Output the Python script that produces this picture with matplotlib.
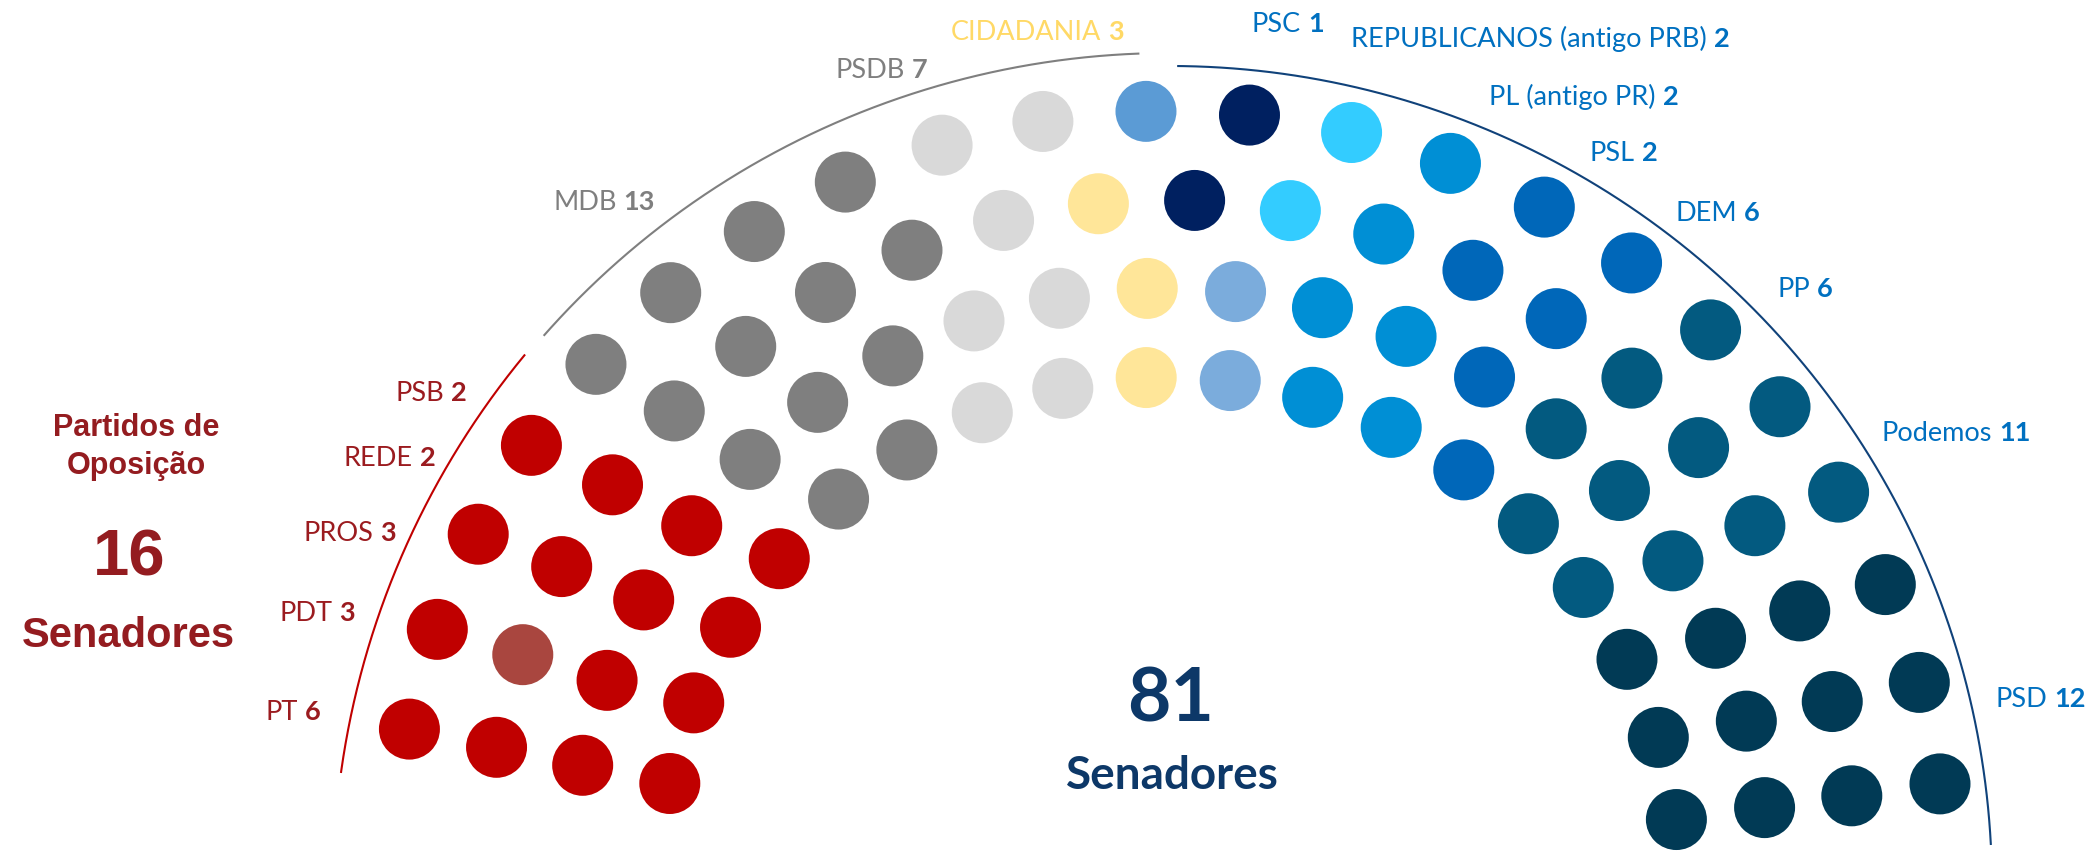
import numpy as np
from matplotlib import pyplot as plt

# %% dados: composicao do Senado por partido (da esquerda para a direita no arco)
partidos = ['PT', 'PDT', 'PROS', 'REDE', 'PSB', 'MDB', 'PSDB', 'CIDADANIA', 'PSC',
            'REPUBLICANOS (antigo PRB)', 'PL (antigo PR)', 'PSL', 'DEM', 'PP',
            'Podemos', 'PSD']
cadeiras = [6, 3, 3, 2, 2, 13, 7, 3, 1, 2, 2, 2, 6, 6, 11, 12]
cores = ['#C00000', '#C00000', '#C00000', '#C00000', '#C00000',
         '#7F7F7F', '#D9D9D9', '#FFE699', '#5B9BD5', '#002060', '#7BACDC',
         '#33CCFF', '#008FD5', '#0067B9', '#035A80', '#013A55']
cores_rotulo = ['#9B1B1F'] * 5 + ['#7F7F7F'] * 2 + ['#FFD966'] + ['#0070C0'] * 8

total_senado = 81
total_oposicao = 16
cor_destaque = '#A9463F'   # uma cadeira da oposicao em tom diferente

# %% layout (coordenadas em pixels da figura)
W, H = 2098, 852
cx, cy = 1170, 888
raios = [511, 600, 688, 777]          # filas, de dentro para fora
por_fila = [18, 20, 21, 22]
ang_ini, ang_fim = 168.2, 7.7
diam = 61
destaque = (2, 1)                      # (fila, posicao na fila)

arcos = [(140.4, 172.1, 837, '#C00000'),
         (92.1, 138.6, 835, '#7F7F7F'),
         (3.0, 89.5, 822, '#10427A')]

pos_rotulos = [(266, 720), (279, 621), (303, 541), (344, 466), (395, 401),
               (553, 210), (835, 78), (951, 40), (1252, 32), (1351, 47),
               (1489, 105), (1590, 161), (1675, 221), (1777, 297), (1882, 441),
               (1996, 707)]

# posicoes das cadeiras
xs, ys, angs, filas, idx_fila = [], [], [], [], []
for i, (r, n) in enumerate(zip(raios, por_fila)):
    t = np.linspace(ang_ini, ang_fim, n)
    xs += list(cx + r * np.cos(np.radians(t)))
    ys += list(cy - r * np.sin(np.radians(t)))
    angs += list(t)
    filas += [i] * n
    idx_fila += list(range(n))
xs, ys, angs = np.array(xs), np.array(ys), np.array(angs)
filas, idx_fila = np.array(filas), np.array(idx_fila)

ordem = np.argsort(-angs, kind='stable')
cor_cadeira = np.empty(len(xs), dtype=object)
cor_cadeira[ordem] = np.repeat(cores, cadeiras)
cor_cadeira[(filas == destaque[0]) & (idx_fila == destaque[1])] = cor_destaque

# %% figura
fig = plt.figure(figsize=(W / 100, H / 100), dpi=100)
ax = fig.add_axes([0, 0, 1, 1])
ax.set_xlim(0, W)
ax.set_ylim(H, 0)
ax.axis('off')

s = (diam * 72 / 100) ** 2
ax.scatter(xs, ys, s=s, c=list(cor_cadeira), linewidths=0, zorder=3)

for a0, a1, r, cor in arcos:
    t = np.radians(np.linspace(a0, a1, 200))
    ax.plot(cx + r * np.cos(t), cy - r * np.sin(t), color=cor, lw=1.5,
            solid_capstyle='butt')

# rotulos: nome normal + numero em negrito
fs = 19.5
renderer = fig.canvas.get_renderer()
inv = ax.transData.inverted()
for nome, n, cor, (lx, ly) in zip(partidos, cadeiras, cores_rotulo, pos_rotulos):
    t = ax.text(lx, ly, nome, color=cor, fontsize=fs, family='Lato',
                ha='left', va='baseline')
    bb = t.get_window_extent(renderer=renderer)
    x1 = inv.transform((bb.x1, bb.y0))[0]
    ax.text(x1 + 7, ly, str(n), color=cor, fontsize=fs, family='Lato',
            fontweight='bold', ha='left', va='baseline')

# bloco da oposicao
cor_op = '#941C20'
ax.text(136, 436, 'Partidos de', color=cor_op, fontsize=22, family='Liberation Sans',
        fontweight='bold', ha='center', va='baseline')
ax.text(136, 474, 'Oposição', color=cor_op, fontsize=22, family='Liberation Sans',
        fontweight='bold', ha='center', va='baseline')
ax.text(129, 576, str(total_oposicao), color=cor_op, fontsize=47, family='Liberation Sans',
        fontweight='bold', ha='center', va='baseline')
ax.text(128, 647, 'Senadores', color=cor_op, fontsize=30, family='Liberation Sans',
        fontweight='bold', ha='center', va='baseline')

# total no centro
cor_tot = '#0D3868'
ax.text(1171, 722, str(total_senado), color=cor_tot, fontsize=54, family='Lato',
        fontweight='bold', ha='center', va='baseline')
ax.text(1172, 789, 'Senadores', color=cor_tot, fontsize=33, family='Lato',
        fontweight='bold', ha='center', va='baseline')

plt.savefig('out.png', dpi=100)
